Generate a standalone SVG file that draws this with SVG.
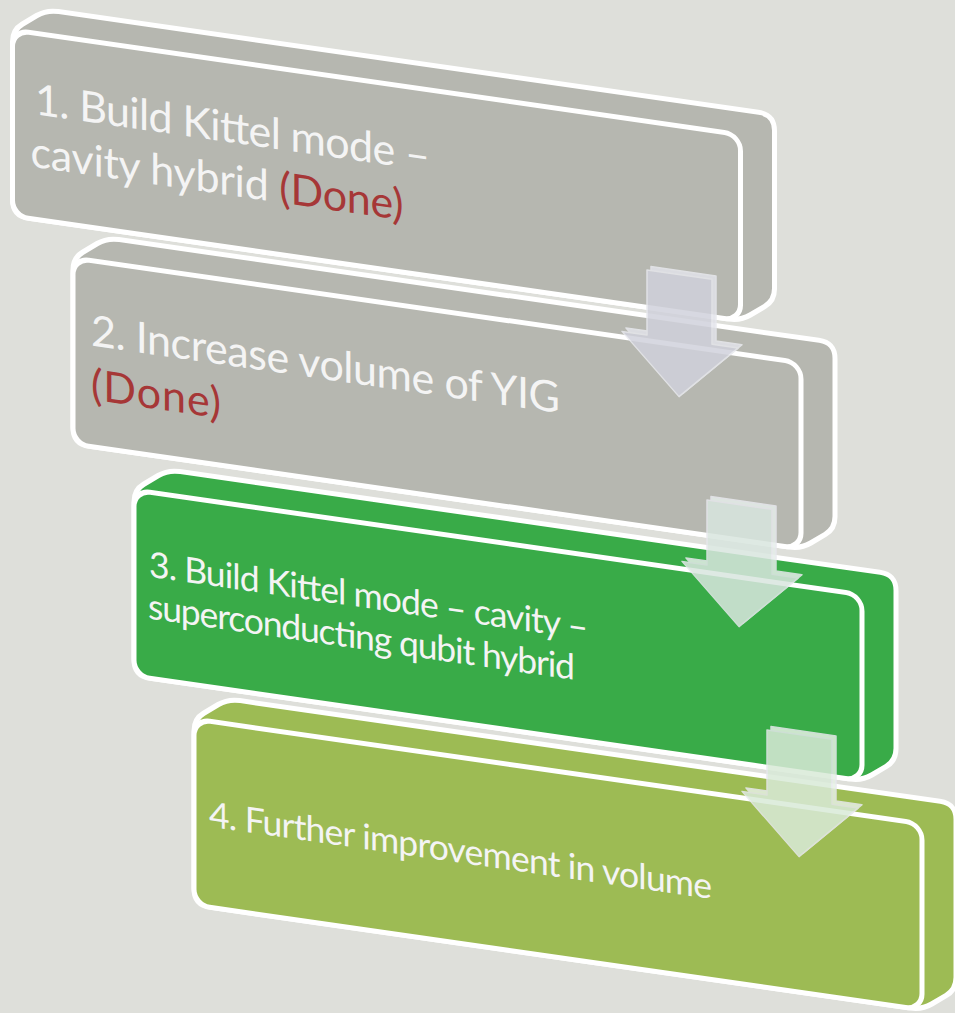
<svg xmlns="http://www.w3.org/2000/svg" width="955" height="1013" viewBox="0 0 955 1013">
  <style>
    .bg { fill: #DEDFDA; }
    .edge { stroke: #FFFFFF; stroke-width: 5; stroke-linejoin: round; }
    .grey { fill: #B6B7B0; }
    .green { fill: #39AB48; }
    .lime { fill: #9DBB54; }
    .label { font-family: Lato, "Open Sans", "Liberation Sans", sans-serif; fill: #F4F4F4; }
    .big { font-size: 43px; }
    .small { font-size: 35.5px; }
    .done { fill: #A63737; }
    .arrow { stroke: #E8E9EE; stroke-width: 1.5; stroke-linejoin: round; }
  </style>
  <defs>
    <!-- outer silhouette of an extruded slab: front face plus its top and right side -->
    <path id="hull" d="M0,12 Q0,0 9.7,-7.1 L24.3,-17.9 Q34,-25 46,-25 L746,-25 Q762,-25 762,-9 L762,149 Q762,161 752.3,168.1 L737.7,178.9 Q728,186 716,186 L16,186 Q0,186 0,170 Z"/>
    <rect id="face" x="0" y="0" width="728" height="186" rx="16"/>
    <path id="arrowShape" d="M0,0 L65,0 L65,65 L91,65 L32,122 L-25,65 L0,65 Z"/>
  </defs>

  <rect class="bg" x="0" y="0" width="955" height="1013"/>

  <g id="step1" transform="translate(12.5,30) skewY(8.19)">
    <use href="#hull" class="grey edge"/>
    <use href="#face" class="grey edge"/>
    <text class="label big" x="22.5" y="81" textLength="395">1. Build Kittel mode –</text>
    <text class="label big" x="18" y="134" textLength="373"><tspan>cavity hybrid </tspan><tspan class="done">(Done)</tspan></text>
  </g>

  <g id="step2" transform="translate(73,258) skewY(8.19)">
    <use href="#hull" class="grey edge"/>
    <use href="#face" class="grey edge"/>
    <text class="label big" x="18" y="85" textLength="469">2. Increase volume of YIG</text>
    <text class="label big done" x="18" y="139" textLength="130">(Done)</text>
  </g>

  <g id="step3" transform="translate(134,490) skewY(8.19)">
    <use href="#hull" class="green edge"/>
    <use href="#face" class="green edge"/>
    <text class="label small" x="15" y="84.5" textLength="439">3. Build Kittel mode – cavity –</text>
    <text class="label small" x="14" y="126.5" textLength="427">superconducting qubit hybrid</text>
  </g>

  <g id="step4" transform="translate(194,719) skewY(8.19)">
    <use href="#hull" class="lime edge"/>
    <use href="#face" class="lime edge"/>
    <text class="label small" x="15" y="105.5" textLength="503">4. Further improvement in volume</text>
  </g>

  <g id="connectors">
    <g class="arrow" transform="translate(647,270) skewY(8.19)" opacity="0.85">
      <use href="#arrowShape" transform="translate(4,-4)" fill="#E2E3EA"/>
      <use href="#arrowShape" fill="#D1D2DC"/>
    </g>
    <g class="arrow" transform="translate(707,500) skewY(8.19)" opacity="0.85">
      <use href="#arrowShape" transform="translate(4,-4)" fill="#E6EEEA"/>
      <use href="#arrowShape" fill="#D9E6DF"/>
    </g>
    <g class="arrow" transform="translate(767,730) skewY(8.19)" opacity="0.85">
      <use href="#arrowShape" transform="translate(4,-4)" fill="#E6F1E4"/>
      <use href="#arrowShape" fill="#D9EAD8"/>
    </g>
  </g>
</svg>
